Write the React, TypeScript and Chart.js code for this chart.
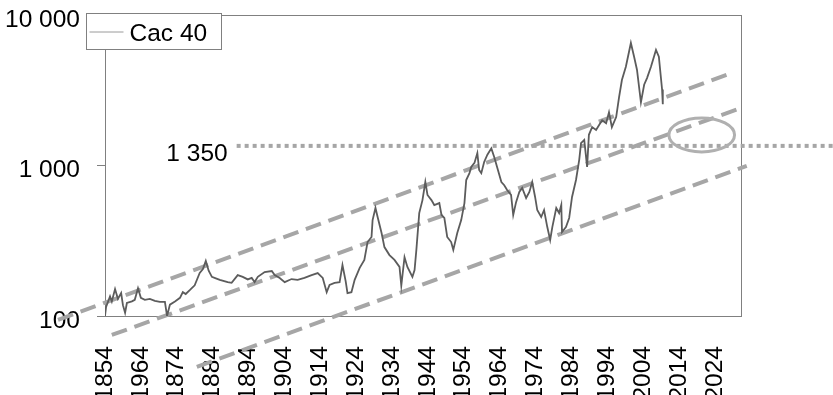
import React, { useEffect, useRef } from "react";
import { Chart, registerables } from "chart.js";

Chart.register(...registerables);

const seriesLabel = "Cac 40";

const years = [
  1854.0, 1854.3, 1855.4, 1855.9, 1856.8, 1857.6, 1858.5, 1859.0, 1859.6, 1860.1,
  1861.5, 1862.3, 1863.2, 1864.0, 1865.1, 1866.5, 1867.9, 1869.3, 1870.7, 1871.3,
  1872.1, 1873.5, 1874.9, 1875.7, 1876.5, 1877.7, 1879.0, 1880.4, 1881.3, 1882.1,
  1882.9, 1883.8, 1884.9, 1886.0, 1888.2, 1889.3, 1891.0, 1892.4, 1893.8, 1894.9,
  1895.7, 1896.6, 1898.5, 1900.5, 1901.3, 1902.7, 1904.1, 1906.0, 1907.7, 1909.6,
  1911.6, 1913.3, 1914.1, 1914.7, 1915.8, 1916.6, 1918.0, 1919.4, 1920.2, 1921.1,
  1921.6, 1922.7, 1923.6, 1925.0, 1926.3, 1927.2, 1928.3, 1928.6, 1929.4, 1930.0,
  1931.1, 1931.9, 1933.3, 1934.7, 1936.1, 1936.6, 1937.5, 1938.3, 1939.7, 1940.3,
  1940.8, 1941.6, 1942.5, 1943.3, 1943.9, 1945.0, 1945.8, 1947.2, 1947.8, 1948.6,
  1949.4, 1950.5, 1951.1, 1952.2, 1953.3, 1954.2, 1954.7, 1955.6, 1956.1, 1957.0,
  1957.8, 1958.3, 1958.9, 1959.7, 1960.6, 1961.7, 1962.5, 1963.3, 1964.5, 1965.3,
  1966.1, 1967.2, 1967.8, 1968.6, 1969.5, 1970.3, 1971.4, 1972.3, 1973.1, 1973.9,
  1974.5, 1975.6, 1976.4, 1977.3, 1978.1, 1978.7, 1979.8, 1980.6, 1981.2, 1981.4,
  1982.5, 1983.4, 1984.2, 1985.3, 1986.2, 1986.7, 1987.6, 1988.4, 1988.9, 1989.8,
  1990.9, 1991.7, 1992.6, 1993.7, 1994.5, 1995.3, 1996.5, 1997.3, 1998.1, 1999.2,
  2000.6, 2001.5, 2002.3, 2003.4, 2004.3, 2005.1, 2006.2, 2007.6, 2008.4, 2009.3,
  2009.5,
];

const values = [
  100, 115, 135, 125, 151, 130, 142, 118, 105, 122,
  125, 128, 153, 132, 128, 130, 126, 124, 124, 100,
  119, 125, 132, 144, 140, 149, 160, 193, 205, 232,
  200, 182, 178, 174, 168, 166, 187, 182, 175, 179,
  168, 182, 196, 199, 187, 179, 168, 176, 174, 179,
  187, 193, 185, 179, 144, 161, 166, 168, 218, 170,
  142, 144, 174, 209, 236, 310, 335, 434, 522, 455,
  356, 287, 254, 236, 212, 159, 246, 212, 182, 202,
  275, 483, 589, 777, 637, 589, 546, 563, 470, 448,
  335, 310, 275, 356, 434, 563, 801, 890, 979, 1040,
  1210, 934, 890, 1056, 1180, 1300, 1140, 979, 777, 740,
  687, 637, 469, 571, 667, 710, 608, 667, 777, 618,
  506, 455, 506, 390, 320, 390, 522, 483, 546, 361,
  390, 448, 618, 801, 1090, 1410, 1480, 979, 1600, 1800,
  1720, 1850, 2000, 1910, 2260, 1800, 2100, 2840, 3700, 4530,
  6520, 5280, 4330, 2630, 3440, 3810, 4530, 5860, 5280, 3200,
  2550,
];

const xTickYears = [
  1854, 1864, 1874, 1884, 1894, 1904, 1914, 1924, 1934,
  1944, 1954, 1964, 1974, 1984, 1994, 2004, 2014, 2024,
];
const xTickLabels = [
  "1854", "1964", "1874", "1884", "1894", "1904", "1914", "1924", "1934",
  "1944", "1954", "1964", "1974", "1984", "1994", "2004", "2014", "2024",
];
const yTickValues = [100, 1000, 10000];
const yTickLabels = ["100", "1 000", "10 000"];

const upperTrendYears = [1840.9, 2028.7];
const upperTrendValues = [94.1, 4121];
const middleTrendYears = [1855.9, 2032.1];
const middleTrendValues = [74.8, 2449];
const lowerTrendYears = [1879.6, 2032.9];
const lowerTrendValues = [45.9, 993];

const refLevel = 1350;
const refLabel = "1 350";
const refYears = [1890.7, 2060];

const ellipseYears = [2011.2, 2029.5];
const ellipseValues = [1231, 2070];

const FONT = '"Liberation Sans", Arial, Helvetica, sans-serif';
const TREND_COLOR = "#a6a6a6";

const pts = (xs: number[], ys: number[]) => xs.map((x, i) => ({ x, y: ys[i] }));

const decorPlugin = {
  id: "decor",
  beforeDatasetsDraw(chart: any) {
    const { ctx, chartArea: a } = chart;
    ctx.save();
    ctx.strokeStyle = "#808080";
    ctx.lineWidth = 1;
    ctx.strokeRect(a.left + 0.5, a.top + 0.5, a.right - a.left, a.bottom - a.top);
    ctx.restore();
  },
  afterDatasetsDraw(chart: any) {
    const { ctx, scales } = chart;
    const x = scales.x;
    const y = scales.y;
    ctx.save();
    const x0 = x.getPixelForValue(ellipseYears[0]);
    const x1 = x.getPixelForValue(ellipseYears[1]);
    const y0 = y.getPixelForValue(ellipseValues[0]);
    const y1 = y.getPixelForValue(ellipseValues[1]);
    ctx.beginPath();
    ctx.ellipse((x0 + x1) / 2, (y0 + y1) / 2, Math.abs(x1 - x0) / 2, Math.abs(y1 - y0) / 2, 0, 0, Math.PI * 2);
    ctx.strokeStyle = "#b0b0b0";
    ctx.lineWidth = 3;
    ctx.stroke();
    ctx.font = `24.5px ${FONT}`;
    ctx.fillStyle = "#000";
    ctx.textAlign = "right";
    ctx.textBaseline = "middle";
    ctx.fillText(refLabel, x.getPixelForValue(refYears[0]) - 9, y.getPixelForValue(refLevel) + 8);
    ctx.restore();
  },
  afterDraw(chart: any) {
    const { ctx, chartArea: a } = chart;
    ctx.save();
    const bx = a.left - 18.5;
    const by = a.top - 1.5;
    const bw = 135;
    const bh = 36;
    ctx.fillStyle = "#fff";
    ctx.fillRect(bx, by, bw, bh);
    ctx.strokeStyle = "#808080";
    ctx.lineWidth = 1;
    ctx.strokeRect(bx, by, bw, bh);
    ctx.beginPath();
    ctx.moveTo(bx + 3, by + 18.5);
    ctx.lineTo(bx + 37, by + 18.5);
    ctx.strokeStyle = "#9a9a9a";
    ctx.lineWidth = 1;
    ctx.stroke();
    ctx.font = `24.5px ${FONT}`;
    ctx.fillStyle = "#000";
    ctx.textAlign = "left";
    ctx.textBaseline = "alphabetic";
    ctx.fillText(seriesLabel, bx + 43, by + 27.5);
    ctx.restore();
  },
};

export default function App() {
  const ref = useRef<HTMLCanvasElement | null>(null);

  useEffect(() => {
    if (!ref.current) return;
    const trend = (xs: number[], ys: number[]) => ({
      data: pts(xs, ys),
      borderColor: TREND_COLOR,
      borderWidth: 4,
      borderDash: [16, 8],
      pointRadius: 0,
      clip: false as any,
      fill: false,
    });
    const chart = new Chart(ref.current, {
      type: "line",
      data: {
        datasets: [
          {
            label: seriesLabel,
            data: pts(years, values),
            borderColor: "#5c5c5c",
            borderWidth: 1.8,
            pointRadius: 0,
            tension: 0,
            fill: false,
          },
          trend(upperTrendYears, upperTrendValues),
          trend(middleTrendYears, middleTrendValues),
          trend(lowerTrendYears, lowerTrendValues),
          {
            data: pts(refYears, [refLevel, refLevel]),
            borderColor: TREND_COLOR,
            borderWidth: 4,
            borderDash: [4, 4],
            pointRadius: 0,
            clip: false as any,
            fill: false,
          },
        ],
      },
      options: {
        animation: false,
        responsive: false,
        maintainAspectRatio: false,
        events: [],
        layout: { padding: { left: 0, right: 92, top: 15, bottom: 0 } },
        plugins: {
          legend: { display: false },
          tooltip: { enabled: false },
        },
        scales: {
          x: {
            type: "linear",
            min: 1854,
            max: 2031.3,
            afterBuildTicks: (axis: any) => {
              axis.ticks = xTickYears.map((v) => ({ value: v }));
            },
            afterFit: (axis: any) => {
              axis.height = 79;
              axis.paddingLeft = 0;
              axis.paddingRight = 0;
            },
            grid: { display: false },
            border: { display: false },
            ticks: {
              autoSkip: false,
              minRotation: 90,
              maxRotation: 90,
              padding: 22,
              color: "#000",
              font: { size: 24.5, family: FONT },
              callback: (_v: any, i: number) => xTickLabels[i],
            },
          },
          y: {
            type: "logarithmic",
            min: 100,
            max: 10000,
            afterBuildTicks: (axis: any) => {
              axis.ticks = yTickValues.map((v) => ({ value: v }));
            },
            afterFit: (axis: any) => {
              axis.width = 105;
              axis.paddingTop = 0;
              axis.paddingBottom = 0;
            },
            grid: {
              display: true,
              drawOnChartArea: false,
              drawTicks: true,
              tickLength: 8,
              color: "#808080",
            },
            border: { display: false },
            ticks: {
              padding: 17,
              labelOffset: 5,
              color: "#000",
              font: { size: 24.5, family: FONT },
              callback: (_v: any, i: number) => yTickLabels[i],
            },
          },
        },
      },
      plugins: [decorPlugin],
    });
    return () => chart.destroy();
  }, []);

  return (
    <div style={{ position: "fixed", left: 0, top: 0, width: 833, height: 395, background: "#fff" }}>
      <canvas ref={ref} width={833} height={395} style={{ display: "block" }} />
    </div>
  );
}
